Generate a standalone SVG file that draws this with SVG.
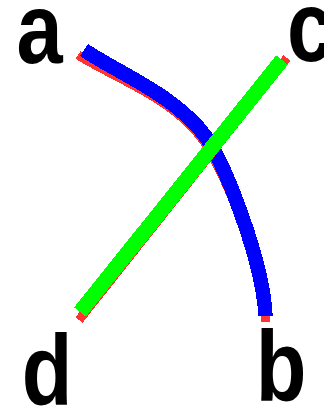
<svg xmlns="http://www.w3.org/2000/svg" width="324" height="407" viewBox="0 0 324 407">
<style>
.lbl{font-family:"Liberation Sans",Arial,sans-serif;font-weight:bold;font-size:100px;fill:#000;text-anchor:middle}
.red{fill:none;stroke:#ff3333;stroke-width:9}
.blue{fill:none;stroke:#0000ff;stroke-width:14.5}
.green{fill:none;stroke:#00ff00;stroke-width:15}
path{shape-rendering:crispEdges}
</style>
<rect width="324" height="407" fill="#fff"/>
<g id="connectors">
<path class="red" d="M78,55 C116,79 173,98 203,140 C223,169 263,262 265.5,322"/>
<path class="blue" d="M84,50 C120,74 175,95 206,137 C225,165 263,260 265.5,316"/>
<path class="red" d="M287,58 L79,320"/>
<path class="green" d="M282,60 L80,312"/>
</g>
<g id="node-a"><text class="lbl" transform="translate(39.5,63) scale(0.83,1)">a</text></g>
<g id="node-c"><text class="lbl" transform="translate(310,61) scale(0.83,1)">c</text></g>
<g id="node-d"><text class="lbl" transform="translate(47,405) scale(0.83,1)">d</text></g>
<g id="node-b"><text class="lbl" transform="translate(281,401) scale(0.83,1)">b</text></g>
</svg>
